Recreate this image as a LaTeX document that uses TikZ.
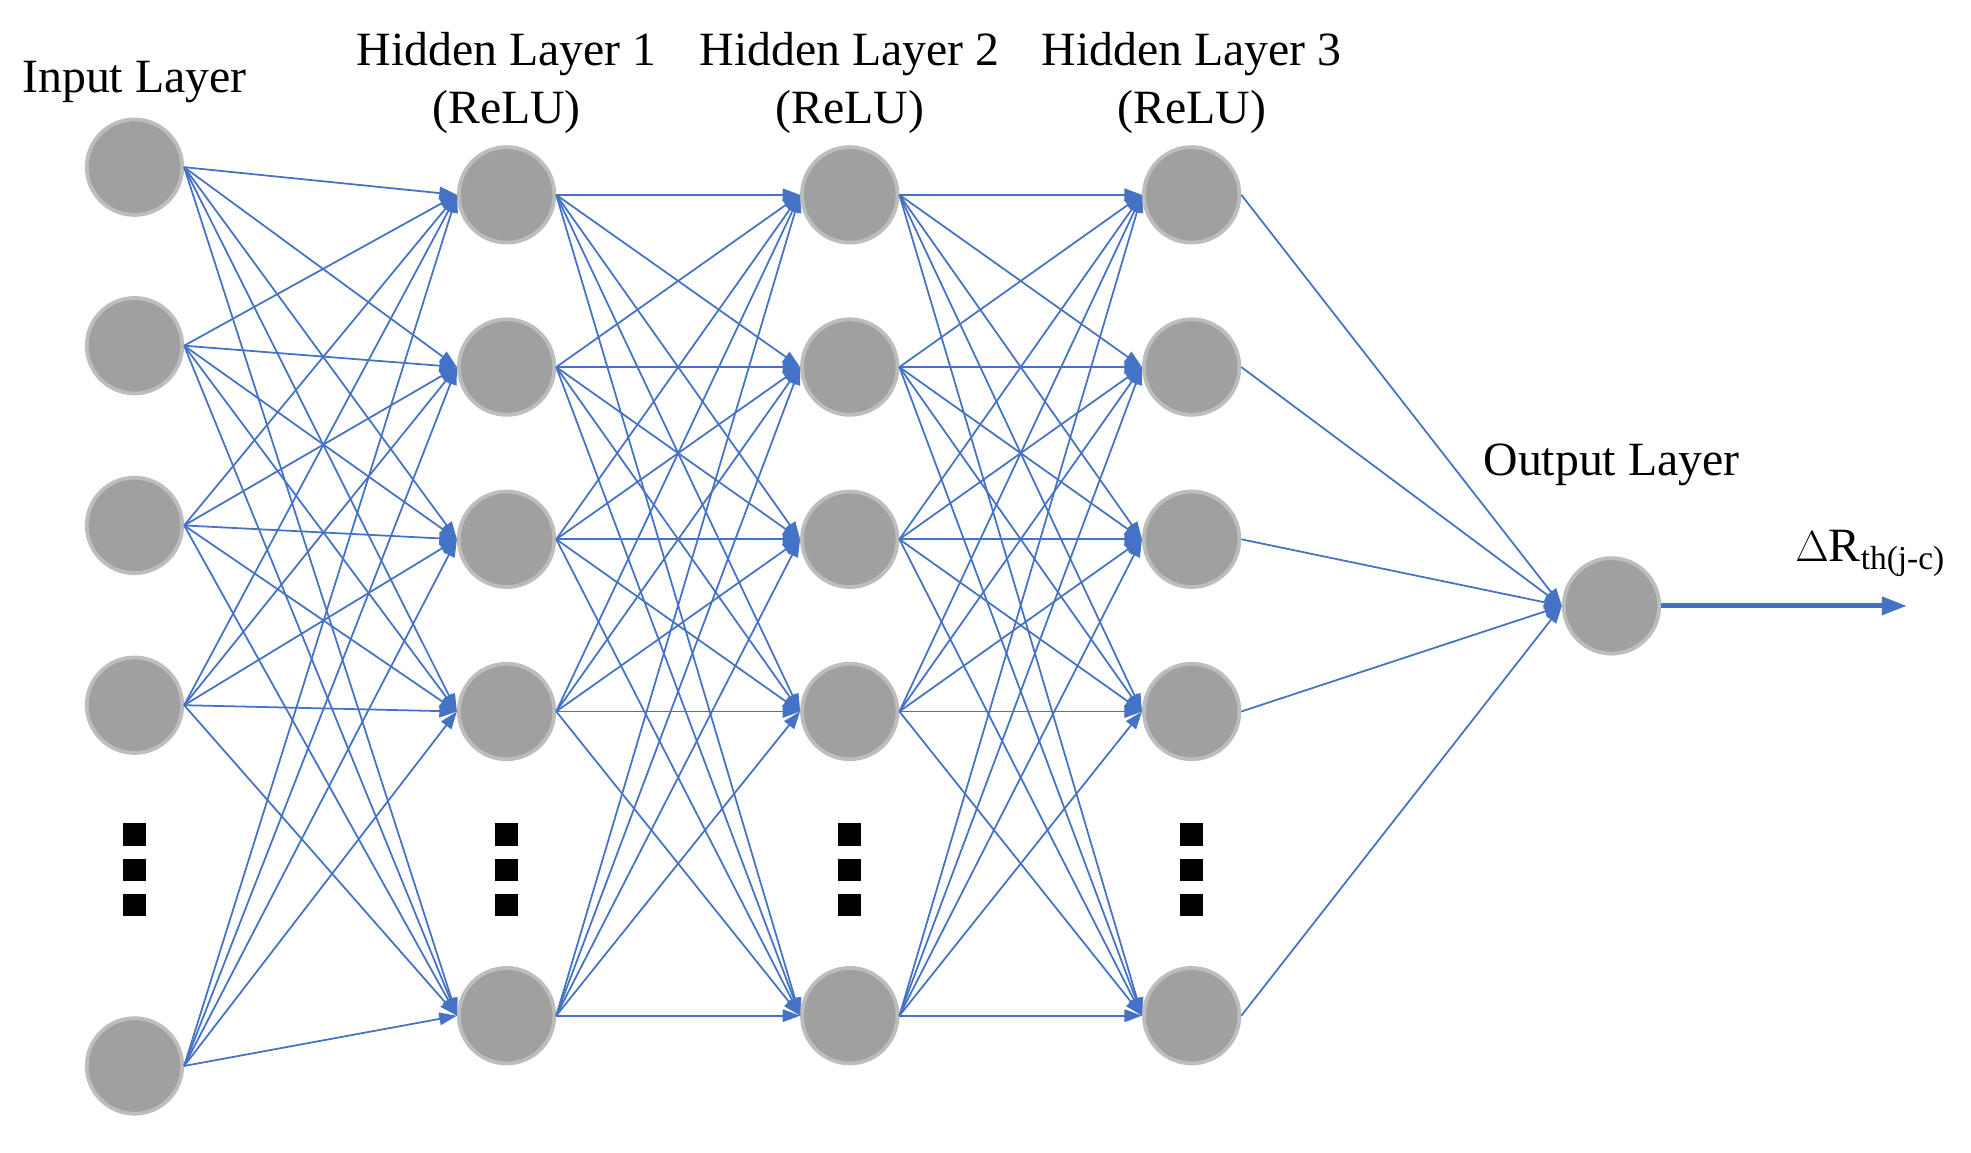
\documentclass[tikz,border=0pt]{standalone}
\usepackage{fontspec}
\setmainfont{Liberation Serif}
\usetikzlibrary{arrows.meta}
\definecolor{lb}{HTML}{4472C4}
\definecolor{nf}{HTML}{A0A0A0}
\definecolor{nd}{HTML}{BDBDBD}
\begin{document}
\begin{tikzpicture}[x=0.5pt,y=-0.5pt,
  neu/.style={circle,fill=nf,draw=nd,line width=1.5pt,minimum size=38pt,inner sep=0},
  con/.style={draw=lb,line width=0.7pt,-{Triangle[length=7pt,width=5pt]}},
  lab/.style={font=\fontsize{19}{23}\selectfont,align=center},
  sq/.style={fill=black,minimum size=9pt,inner sep=0}]
\useasboundingbox (0,0) rectangle (1568,917);
% input
\foreach \i/\y in {1/133,2/275,3/418,4/561,5/848} \node[neu] (a\i) at (107,\y) {};
\foreach \L/\x in {b/403,c/676,d/948}
  \foreach \i/\y in {1/155,2/292,3/429,4/566,5/808} \node[neu] (\L\i) at (\x,\y) {};
\node[neu] (o) at (1282,482) {};
\foreach \x in {107,403,676,948}
  \foreach \y/\k in {664/1,692/2,720/3} \node[sq] (s\x\k) at (\x,\y) {};
\foreach \P/\Q in {a/b,b/c,c/d}
  \foreach \i in {1,...,5}
    \foreach \j in {1,...,5} \draw[con] (\P\i.east) -- (\Q\j.west);
\foreach \i in {1,...,5} \draw[con] (d\i.east) -- (o.west);
\coordinate (end) at (1517,482);
\draw[draw=lb,line width=2pt,-{Triangle[length=10pt,width=7pt]}] (o) -- (end);
\node[lab] (t0) at (107,65) {Input Layer};
\node[lab] (t1) at (403,66) {Hidden Layer 1\\(ReLU)};
\node[lab] (t2) at (676,66) {Hidden Layer 2\\(ReLU)};
\node[lab] (t3) at (948,66) {Hidden Layer 3\\(ReLU)};
\node[lab] (t4) at (1282,370) {Output Layer};
\node[lab] (t5) at (1488,440) {$\Delta$R\textsubscript{th(j-c)}};
\end{tikzpicture}
\end{document}
